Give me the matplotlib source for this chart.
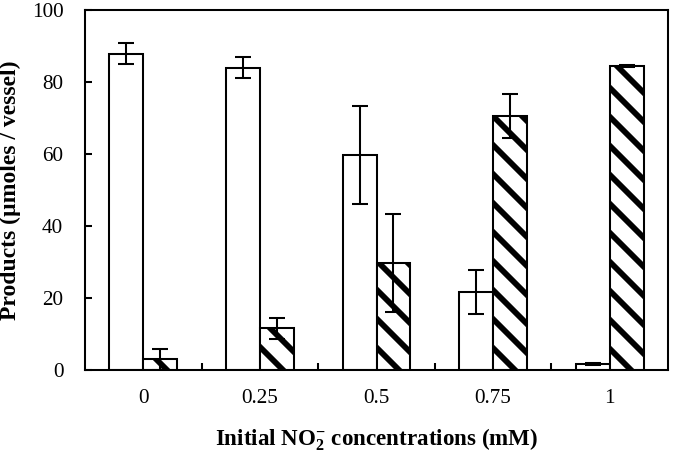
import matplotlib
matplotlib.use("Agg")
import matplotlib.pyplot as plt
import numpy as np

# data
concentrations = ["0", "0.25", "0.5", "0.75", "1"]
open_vals = [87.9, 84.0, 59.7, 21.7, 1.6]
open_err = [2.9, 2.9, 13.5, 6.1, 0.3]
hatched_vals = [3.0, 11.6, 29.8, 70.5, 84.5]
hatched_err = [2.9, 2.9, 13.6, 6.1, 0.3]

DPI = 87
plt.rcParams['font.family'] = ['Liberation Serif', 'DejaVu Serif']
plt.rcParams['mathtext.default'] = 'regular'
plt.rcParams['hatch.linewidth'] = 4.8
plt.rcParams['axes.linewidth'] = 1.7

fig = plt.figure(figsize=(680 / DPI, 452 / DPI), dpi=DPI)
ax = fig.add_axes([85 / 680, 1 - 370 / 452, 583 / 680, 360 / 452])

x = np.arange(len(concentrations))
w = 0.29
ax.bar(x - w / 2, open_vals, w, color='white', edgecolor='black', linewidth=1.7)
ax.bar(x + w / 2, hatched_vals, w, color='white', edgecolor='black', linewidth=1.7,
       hatch='\\')
ax.errorbar(x - w / 2, open_vals, yerr=open_err, fmt='none', ecolor='black',
            elinewidth=1.7, capsize=6.5, capthick=1.7)
ax.errorbar(x + w / 2, hatched_vals, yerr=hatched_err, fmt='none', ecolor='black',
            elinewidth=1.7, capsize=6.5, capthick=1.7)

ax.set_xlim(-0.5, len(concentrations) - 0.5)
ax.set_ylim(0, 100)
ax.set_yticks([0, 20, 40, 60, 80, 100])
ax.set_xticks(x)
ax.set_xticklabels(concentrations)
ax.set_xticks(x[:-1] + 0.5, minor=True)
ax.tick_params(axis='x', which='major', length=0, pad=16, labelsize=17.5)
ax.tick_params(axis='x', which='minor', direction='in', length=6, width=1.7)
ax.tick_params(axis='y', direction='in', length=6, width=1.7, pad=18, labelsize=17.5)

ax.set_xlabel('Initial NO$_2^{-}$ concentrations (mM)', fontsize=19,
              fontweight='bold', labelpad=15)
ax.set_ylabel('Products (\u00b5moles / vessel)', fontsize=19.5,
              fontweight='bold', labelpad=9)

fig.savefig('out.png', dpi=DPI)
